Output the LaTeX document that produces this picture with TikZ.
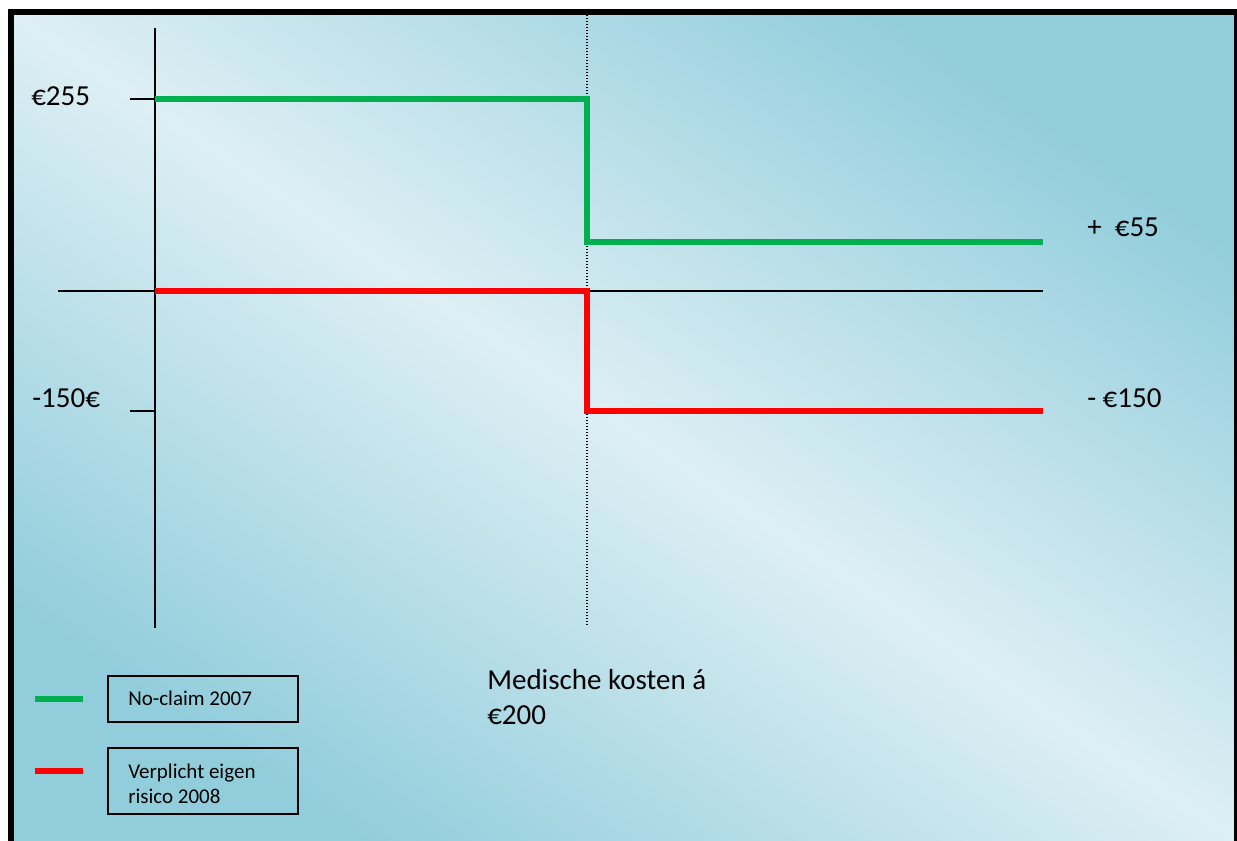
\documentclass[tikz,border=0pt]{standalone}
\usepackage{fontspec}
\setmainfont{Carlito}
\definecolor{bgdark}{RGB}{146,205,220}
\definecolor{bglight}{RGB}{221,239,244}
\definecolor{ngreen}{RGB}{0,176,80}
\definecolor{nred}{RGB}{255,0,0}
\begin{document}
\begin{tikzpicture}[x=0.75pt,y=-0.75pt,
  axis/.style={line width=1.2pt,black},
  dotline/.style={line width=0.8pt,black,dash pattern=on 0.75pt off 1.5pt},
  stepg/.style={line width=5.2pt,ngreen},
  stepr/.style={line width=5.2pt,nred},
  big/.style={font=\fontsize{21.75}{26.25}\selectfont, inner sep=0pt, anchor=base west},
  small/.style={font=\fontsize{15.75}{18.75}\selectfont, inner sep=0pt, anchor=base west},
  legbox/.style={draw, line width=1.5pt, minimum width=143pt, inner sep=0pt}]
\useasboundingbox (0,0) rectangle (1237,841);
\fill[white] (0,0) rectangle (1237,841);
\shade[top color=bgdark,bottom color=bgdark,middle color=bglight,shading angle=-34] (11,12) rectangle (1237,841);
% frame
\coordinate (fTL) at (8,12);
\coordinate (fTR) at (1237,12);
\coordinate (fL) at (11,9);
\coordinate (fLB) at (11,841);
\coordinate (fR) at (1235.5,9);
\coordinate (fRB) at (1235.5,841);
\draw[line width=4.5pt] (fTL) -- (fTR);
\draw[line width=4.5pt] (fL) -- (fLB);
\draw[line width=2.2pt] (fR) -- (fRB);
% axes
\coordinate (yTop) at (155,28);
\coordinate (yBot) at (155,628);
\coordinate (xL) at (58,291);
\coordinate (xR) at (1043,291);
\draw[axis] (yTop) -- (yBot);
\draw[axis] (xL) -- (xR);
\coordinate (t1) at (130,99);
\coordinate (t1e) at (155,99);
\coordinate (t2) at (130,411);
\coordinate (t2e) at (155,411);
\draw[axis] (t1) -- (t1e);
\draw[axis] (t2) -- (t2e);
% dotted threshold
\coordinate (dTop) at (587,15);
\coordinate (dBot) at (587,626);
\draw[dotline] (dTop) -- (dBot);
% green step
\coordinate (g0) at (155,99);
\coordinate (g1) at (587,99);
\coordinate (g2) at (587,242);
\coordinate (g3) at (1043,242);
\draw[stepg] (g0) -- (g1) -- (g2) -- (g3);
% red step
\coordinate (r0) at (155,291);
\coordinate (r1) at (587,291);
\coordinate (r2) at (587,411);
\coordinate (r3) at (1043,411);
\draw[stepr] (r0) -- (r1) -- (r2) -- (r3);
% labels
\node[big] (l255) at (31,106) {€255};
\node[big] (l150) at (32,407) {-150€};
\node[big] (r55) at (1087,237) {+\ \ €55};
\node[big] (r150) at (1087,407) {- €150};
\node[big] (med1) at (487,689) {Medische kosten á};
\node[big] (med2) at (487,724) {€200};
% legend
\coordinate (lg1) at (35,699);
\coordinate (lg2) at (83,699);
\coordinate (lr1) at (35,771);
\coordinate (lr2) at (83,771);
\draw[stepg] (lg1) -- (lg2);
\draw[stepr] (lr1) -- (lr2);
\node[legbox, minimum height=35pt] (box1) at (203,699) {};
\node[legbox, minimum height=49.5pt] (box2) at (203,780.5) {};
\node[small] (leg1) at (128,705) {No-claim 2007};
\node[small] (leg2a) at (128,778) {Verplicht eigen};
\node[small] (leg2b) at (128,803) {risico 2008};
\end{tikzpicture}
\end{document}
